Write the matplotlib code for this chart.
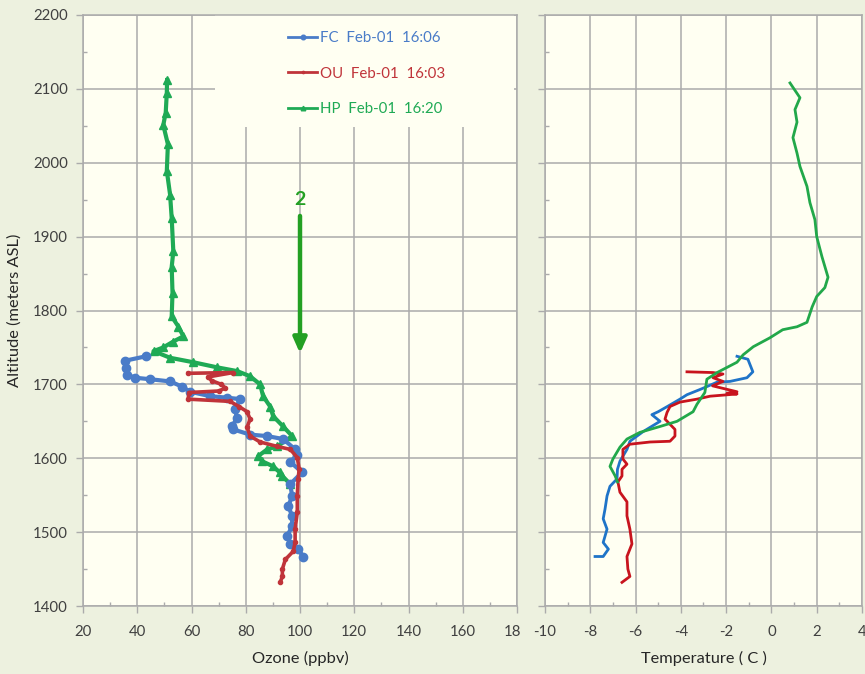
import matplotlib
matplotlib.use("Agg")
import matplotlib.pyplot as plt
from matplotlib.patches import Rectangle
from matplotlib.transforms import Bbox, TransformedBbox

# ---------------- data ----------------
series_labels = ["FC  Feb-01  16:06", "OU  Feb-01  16:03", "HP  Feb-01  16:20"]

fc_o3_alt = [1738, 1732, 1722, 1713, 1709, 1707, 1704, 1697, 1690, 1684, 1682, 1680, 1666, 1655,
             1643, 1639, 1632, 1630, 1626, 1612, 1605, 1595, 1581, 1565, 1549, 1535, 1522, 1508,
             1495, 1484, 1477, 1467]
fc_o3_val = [43.2, 35.5, 35.8, 36.2, 39.2, 44.7, 52.1, 56.5, 59.5, 66.9, 73.1, 78.0, 76.0, 76.8,
             75.0, 75.4, 81.6, 87.9, 93.8, 98.2, 99.0, 96.4, 100.8, 96.4, 97.1, 95.7, 97.1, 97.1,
             95.3, 96.4, 99.3, 101.2]

ou_o3_alt = [1715, 1716, 1710, 1705, 1700, 1695, 1691, 1689, 1680, 1677, 1670, 1663, 1653, 1642,
             1630, 1622, 1616, 1612, 1601, 1585, 1572, 1549, 1527, 1504, 1486, 1474, 1463, 1450,
             1440, 1432]
ou_o3_val = [58.8, 75.4, 66.0, 67.5, 71.0, 72.5, 70.0, 59.0, 58.8, 74.2, 77.5, 80.5, 81.6, 80.5,
             81.6, 85.3, 91.6, 96.4, 99.0, 99.7, 99.3, 99.0, 99.0, 98.2, 98.2, 97.5, 94.6, 93.5,
             93.5, 92.7]

hp_o3_alt = [2112, 2095, 2068, 2051, 2025, 1989, 1957, 1925, 1880, 1859, 1824, 1792, 1778, 1765,
             1758, 1750, 1745, 1736, 1730, 1723, 1718, 1711, 1700, 1684, 1670, 1657, 1643, 1630,
             1616, 1612, 1603, 1596, 1589, 1581, 1576, 1565]
hp_o3_val = [51.0, 50.9, 50.5, 49.6, 51.3, 50.9, 52.1, 52.7, 53.3, 52.7, 53.0, 52.7, 55.2, 57.0,
             53.3, 49.6, 46.0, 52.1, 60.6, 69.5, 76.8, 81.6, 85.3, 86.4, 89.0, 90.1, 93.8, 97.1,
             91.6, 87.9, 84.6, 86.0, 90.1, 92.5, 93.5, 96.4]

fc_t_alt = [1738, 1734, 1717, 1709, 1704, 1703, 1697, 1693, 1686, 1680, 1670, 1663, 1659, 1650,
            1636, 1623, 1612, 1596, 1585, 1572, 1562, 1549, 1531, 1518, 1504, 1486, 1477, 1467, 1467]
fc_t_val = [-1.52, -1.04, -0.82, -1.08, -1.83, -2.40, -2.85, -3.16, -3.73, -4.04, -4.60, -5.00,
            -5.28, -4.92, -5.67, -6.25, -6.38, -6.69, -6.80, -6.82, -7.13, -7.26, -7.35, -7.43,
            -7.26, -7.43, -7.20, -7.43, -7.79]

ou_t_alt = [1717, 1716, 1714, 1709, 1704, 1698, 1690, 1688, 1687, 1684, 1680, 1676, 1670, 1662,
            1653, 1646, 1639, 1630, 1623, 1622, 1619, 1612, 1599, 1592, 1585, 1576, 1568, 1554,
            1541, 1522, 1504, 1484, 1467, 1450, 1440, 1432]
ou_t_val = [-3.73, -2.58, -2.14, -2.58, -2.14, -2.60, -1.52, -1.96, -1.52, -2.71, -3.29, -4.04,
            -4.48, -4.61, -4.70, -4.48, -4.26, -4.26, -4.48, -5.36, -6.25, -6.56, -6.56, -6.38,
            -6.60, -6.60, -6.78, -6.69, -6.38, -6.38, -6.25, -6.16, -6.38, -6.34, -6.25, -6.60]

hp_t_alt = [2108, 2088, 2072, 2055, 2034, 2013, 1995, 1968, 1946, 1923, 1900, 1873, 1845, 1831,
            1819, 1805, 1784, 1778, 1774, 1763, 1751, 1740, 1730, 1716, 1707, 1689, 1673, 1663,
            1650, 1643, 1635, 1626, 1615, 1599, 1589, 1576, 1568]
hp_t_val = [0.82, 1.26, 1.04, 1.13, 0.95, 1.13, 1.26, 1.57, 1.70, 1.92, 2.00, 2.23, 2.50, 2.36,
            2.00, 1.80, 1.57, 1.13, 0.50, -0.07, -0.80, -1.25, -1.52, -2.40, -2.85, -2.94, -3.29,
            -3.46, -4.17, -4.92, -5.81, -6.38, -6.69, -7.00, -7.13, -6.90, -6.80]

o3_ticks = [20, 40, 60, 80, 100, 120, 140, 160, 180]
t_ticks = [-10, -8, -6, -4, -2, 0, 2, 4]
alt_ticks = [1400, 1500, 1600, 1700, 1800, 1900, 2000, 2100, 2200]

# ---------------- style ----------------
FIG_BG = "#EDF1DF"
PLOT_BG = "#FFFFF2"
GRID = "#ABABAB"
BLUE = "#4A7CC8"
RED = "#C0343A"
GREEN = "#1FAA55"
ARROW_GREEN = "#23A023"
TXT = "#404040"

plt.rcParams["font.family"] = ["Lato", "DejaVu Sans"]
plt.rcParams["axes.unicode_minus"] = False

W, H = 865, 674
fig = plt.figure(figsize=(W / 100, H / 100), dpi=100, facecolor=FIG_BG)

def fx(px):
    return px / W

def fy(py):
    return 1 - py / H

ax1 = fig.add_axes([fx(83), fy(606), fx(517) - fx(83), fy(15) - fy(606)])
ax2 = fig.add_axes([fx(545), fy(606), fx(862) - fx(545), fy(15) - fy(606)])

for ax in (ax1, ax2):
    ax.set_facecolor(PLOT_BG)
    ax.set_ylim(1400, 2200)
    ax.set_yticks(alt_ticks)
    ax.set_yticks(range(1450, 2200, 100), minor=True)
    ax.grid(True, which="major", color=GRID, linewidth=1.1)
    ax.set_axisbelow(True)
    for s in ax.spines.values():
        s.set_color(GRID)
        s.set_linewidth(1.1)
    ax.tick_params(which="major", direction="out", length=5, color=GRID, labelcolor=TXT,
                   labelsize=10.8, width=1)
    ax.tick_params(which="minor", direction="in", length=3, color=GRID, width=1)

ax1.set_xlim(20, 180)
ax1.set_xticks(o3_ticks)
ax1.set_xticks(range(30, 180, 20), minor=True)
ax2.set_xlim(-10, 4)
ax2.set_xticks(t_ticks)
ax2.set_xticks(range(-9, 4, 2), minor=True)
ax2.tick_params(axis="y", labelleft=False)
ax1.tick_params(axis="x", pad=9)
ax2.tick_params(axis="x", pad=9)
ax1.tick_params(axis="y", pad=6)

ax1.set_ylabel("Altitude (meters ASL)", fontsize=11.8, color="#262626", labelpad=8)
ax1.set_xlabel("Ozone (ppbv)", fontsize=11.8, color="#262626", labelpad=8)
ax2.set_xlabel("Temperature ( C )", fontsize=11.8, color="#262626", labelpad=8)

# legend cover box (hides gridlines behind the legend)
ax1.add_patch(Rectangle((0.304, 0.81), 0.69, 0.19, transform=ax1.transAxes,
                        facecolor=PLOT_BG, edgecolor="none", zorder=1.5))

# ozone profiles
ax1.plot(hp_o3_val, hp_o3_alt, color=GREEN, lw=3.0, marker="^", ms=6, zorder=3,
         label=series_labels[2])
ax1.plot(fc_o3_val, fc_o3_alt, color=BLUE, lw=3.0, marker="o", ms=6, zorder=4,
         label=series_labels[0])
ax1.plot(ou_o3_val, ou_o3_alt, color=RED, lw=2.6, marker="o", ms=3, zorder=5,
         label=series_labels[1])

# temperature profiles
ax2.plot(fc_t_val, fc_t_alt, color="#1F74C8", lw=2.0, zorder=3)
ax2.plot(ou_t_val, ou_t_alt, color="#C8141E", lw=2.0, zorder=4)
ax2.plot(hp_t_val, hp_t_alt, color="#22A84A", lw=2.0, zorder=5)

# arrow + label
ax1.annotate("", xy=(100, 1742), xytext=(100, 1928),
             arrowprops=dict(arrowstyle="-|>,head_length=0.9,head_width=0.4",
                             color=ARROW_GREEN, lw=3.2, shrinkA=0, shrinkB=0), zorder=6)
ax1.text(100, 1950, "2", color=ARROW_GREEN, fontsize=14, fontweight="bold",
         ha="center", va="center", zorder=6)

# legend
h, l = ax1.get_legend_handles_labels()
order = [1, 2, 0]
leg = ax1.legend([h[i] for i in order], [l[i] for i in order], loc="upper left",
                 bbox_to_anchor=(0.456, 0.985), frameon=False, fontsize=10.8,
                 handlelength=1.9, handletextpad=0.2, labelspacing=1.42,
                 borderpad=0, labelcolor="linecolor", markerscale=0.55)
for line in leg.get_lines():
    line.set_linewidth(2.0)

# clip the last ozone tick label (appears truncated in the original)
fig.canvas.draw()
lbl = ax1.get_xticklabels()[-1]
clip = TransformedBbox(Bbox([[0, 0], [fx(520), 1]]), fig.transFigure)
lbl.set_clip_box(clip)
lbl.set_clip_on(True)

fig.savefig("out.png", dpi=100, facecolor=FIG_BG)
